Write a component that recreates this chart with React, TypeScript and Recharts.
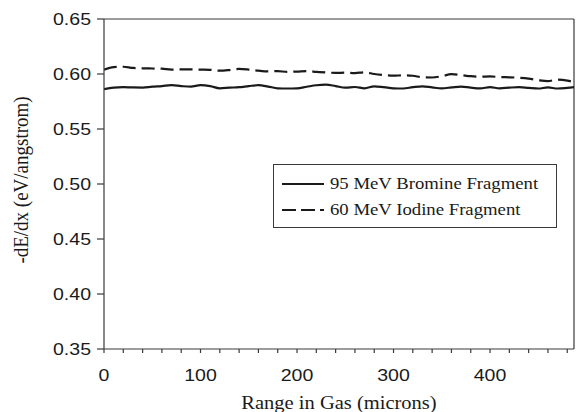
import { Legend, Line, LineChart, ReferenceLine, XAxis, YAxis } from 'recharts';

// range in gas (microns), one reading every 10 microns
const rangeMicrons = [
  0, 10, 20, 30, 40, 50, 60, 70, 80, 90, 100, 110, 120, 130, 140, 150, 160, 170, 180, 190,
  200, 210, 220, 230, 240, 250, 260, 270, 280, 290, 300, 310, 320, 330, 340, 350, 360, 370, 380, 390,
  400, 410, 420, 430, 440, 450, 460, 470, 480, 487
];

const bromine = [
  0.5862, 0.5876, 0.588, 0.5878, 0.5877, 0.5885, 0.589, 0.5898, 0.589, 0.5885, 0.5898, 0.589, 0.587,
  0.5876, 0.588, 0.589, 0.5898, 0.5886, 0.587, 0.5868, 0.587, 0.5884, 0.5898, 0.5903, 0.589, 0.5876,
  0.5882, 0.587, 0.5888, 0.588, 0.587, 0.5868, 0.588, 0.5888, 0.5878, 0.587, 0.5878, 0.5886, 0.5876,
  0.587, 0.588, 0.587, 0.5876, 0.588, 0.5874, 0.5868, 0.5878, 0.5868, 0.5874, 0.588
];

const iodine = [
  0.604, 0.6062, 0.6066, 0.6055, 0.6052, 0.605, 0.6048, 0.604, 0.6042, 0.6042, 0.604, 0.6038, 0.603,
  0.6036, 0.6046, 0.604, 0.603, 0.6024, 0.6026, 0.602, 0.6022, 0.6026, 0.602, 0.6014, 0.601, 0.6012,
  0.6008, 0.6016, 0.6, 0.599, 0.5985, 0.5988, 0.5984, 0.597, 0.5968, 0.598, 0.5998, 0.599, 0.598,
  0.5976, 0.5978, 0.5972, 0.597, 0.5966, 0.5958, 0.5944, 0.5936, 0.5948, 0.594, 0.5925
];

const yTicks = [0.35, 0.4, 0.45, 0.5, 0.55, 0.6, 0.65];
const xTicks = Array.from({ length: 25 }, (_, i) => i * 20);
const xMax = 487;

const seriesNames = ['95 MeV Bromine Fragment', '60 MeV Iodine Fragment'];

const chartData = rangeMicrons.map((x, i) => ({
  x,
  bromine: bromine[i],
  iodine: iodine[i]
}));

const INK = '#1a1a1a';
const AXIS = '#3a3a3a';
const SANS = '"Liberation Sans", Arial, sans-serif';
const SERIF = '"Liberation Serif", "Times New Roman", serif';

function YTick(props: any) {
  const { x, y, payload } = props;
  return (
    <text
      transform={`translate(${x},${y}) scale(1.15,1)`}
      textAnchor="end"
      dominantBaseline="central"
      fontFamily={SANS}
      fontSize={17}
      fill={INK}
    >
      {payload.value.toFixed(2)}
    </text>
  );
}

function XTick(props: any) {
  const { x, y, payload } = props;
  const major = payload.value % 100 === 0;
  return (
    <g>
      <line x1={x} x2={x} y1={y} y2={y + 4} stroke={AXIS} strokeWidth={1.2} />
      {major ? (
        <text
          transform={`translate(${x},${y + 32}) scale(1.15,1)`}
          textAnchor="middle"
          fontFamily={SANS}
          fontSize={17}
          fill={INK}
        >
          {payload.value}
        </text>
      ) : null}
    </g>
  );
}

function XTitle(props: any) {
  const { viewBox } = props;
  return (
    <text
      transform={`translate(${viewBox.x + viewBox.width / 2},${viewBox.y + 60}) scale(1.08,1)`}
      textAnchor="middle"
      fontFamily={SERIF}
      fontSize={19}
      fill={INK}
    >
      Range in Gas (microns)
    </text>
  );
}

function YTitle() {
  return (
    <text
      transform="translate(28,180) rotate(-90) scale(1,1.1)"
      textAnchor="middle"
      fontFamily={SERIF}
      fontSize={19}
      fill={INK}
    >
      -dE/dx (eV/angstrom)
    </text>
  );
}

function LegendBox() {
  const row = { display: 'flex', alignItems: 'center', height: 26 } as const;
  const text = {
    fontFamily: SERIF,
    fontSize: 16,
    color: INK,
    marginLeft: 6,
    transform: 'scaleX(1.17)',
    transformOrigin: 'left center',
    whiteSpace: 'nowrap'
  } as const;
  return (
    <div
      style={{
        border: `1px solid ${AXIS}`,
        width: 284,
        height: 64,
        boxSizing: 'border-box',
        padding: '6px 0 0 8px',
        background: '#fff'
      }}
    >
      <div style={row}>
        <svg width={42} height={6}>
          <line x1={0} x2={42} y1={3} y2={3} stroke={INK} strokeWidth={2.2} />
        </svg>
        <span style={text}>{seriesNames[0]}</span>
      </div>
      <div style={row}>
        <svg width={42} height={6}>
          <line x1={0} x2={42} y1={3} y2={3} stroke={INK} strokeWidth={2.2} strokeDasharray="14 5" />
        </svg>
        <span style={text}>{seriesNames[1]}</span>
      </div>
    </div>
  );
}

export default function App() {
  return (
    <div style={{ position: 'absolute', left: 0, top: 0, width: 579, height: 412, background: '#fff' }}>
      <LineChart width={579} height={412} data={chartData} margin={{ top: 19, right: 5, bottom: 0, left: 0 }}>
        <XAxis
          dataKey="x"
          type="number"
          domain={[0, xMax]}
          ticks={xTicks}
          interval={0}
          allowDataOverflow
          height={63}
          tickSize={0}
          tickMargin={0}
          tickLine={false}
          tick={<XTick />}
          axisLine={{ stroke: AXIS, strokeWidth: 1.2 }}
          label={{ content: <XTitle /> }}
        />
        <YAxis
          type="number"
          domain={[0.35, 0.65]}
          ticks={yTicks}
          interval={0}
          width={104}
          tickSize={7}
          tickMargin={6}
          tickLine={{ stroke: AXIS, strokeWidth: 1.2 }}
          tick={<YTick />}
          axisLine={{ stroke: AXIS, strokeWidth: 1.2 }}
          label={{ content: <YTitle /> }}
        />
        <ReferenceLine y={0.65} stroke={AXIS} strokeWidth={1.2} />
        <ReferenceLine x={xMax} stroke={AXIS} strokeWidth={1.2} />
        <Legend
          layout="vertical"
          align="center"
          verticalAlign="middle"
          content={<LegendBox />}
          wrapperStyle={{ left: 273, top: 164, width: 284, height: 64 }}
        />
        <Line
          type="monotone"
          dataKey="bromine"
          name={seriesNames[0]}
          stroke={INK}
          strokeWidth={2.2}
          dot={false}
          isAnimationActive={false}
        />
        <Line
          type="monotone"
          dataKey="iodine"
          name={seriesNames[1]}
          stroke={INK}
          strokeWidth={2.2}
          strokeDasharray="13 6"
          dot={false}
          isAnimationActive={false}
        />
      </LineChart>
    </div>
  );
}
